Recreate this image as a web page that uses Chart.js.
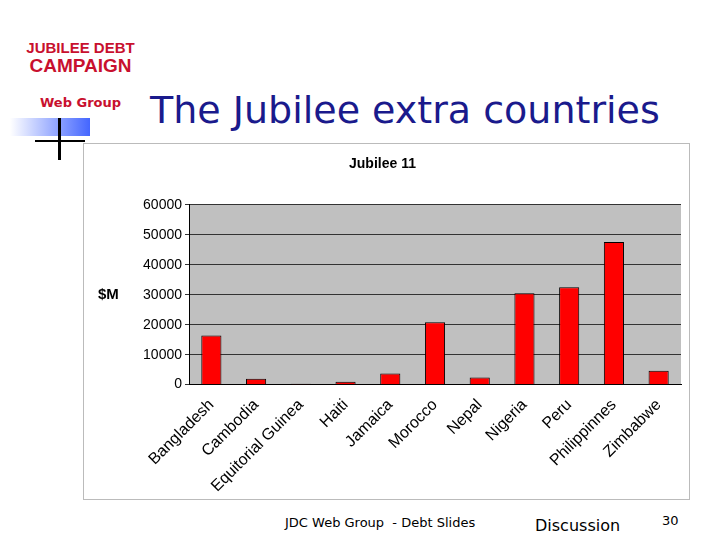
<!DOCTYPE html>
<html>
<head>
<meta charset="utf-8">
<script src="https://cdn.jsdelivr.net/npm/chart.js@4/dist/chart.umd.min.js"></script>
<style>
  body { margin: 0; width: 720px; height: 540px; background: #fff; position: relative; overflow: hidden; font-family: "DejaVu Sans", sans-serif; }
  #logo { position: absolute; left: 18px; top: 40px; width: 125px; text-align: center; }
  #logo .l1 { color: #c8102e; font-weight: bold; font-size: 15px; line-height: 16px; font-family: "Liberation Sans", sans-serif; }
  #logo .l2 { color: #c8102e; font-weight: bold; font-size: 19px; line-height: 19px; font-family: "Liberation Sans", sans-serif; }
  #logo .l3 { color: #c8102e; font-weight: bold; font-size: 13px; margin-top: 20px; }
  #bar { position: absolute; left: 10px; top: 118px; width: 80px; height: 18px; background: linear-gradient(to right, #fff, #4466ff); }
  #vline { position: absolute; left: 58px; top: 118px; width: 3px; height: 42px; background: #000; }
  #hline { position: absolute; left: 35px; top: 140px; width: 50px; height: 2px; background: #000; }
  #title { position: absolute; left: 150px; top: 88px; font-size: 38px; color: #1a1a8c; font-family: "DejaVu Sans", sans-serif; }
  #panel { position: absolute; left: 83px; top: 143px; width: 605px; height: 355px; border: 1px solid #bbb; background: #fff; }
  #foot1 { position: absolute; left: 285px; top: 515px; font-size: 13px; color: #000; }
  #foot2 { position: absolute; left: 535px; top: 516px; font-size: 16px; color: #000; }
  #foot3 { position: absolute; left: 662px; top: 513px; font-size: 13px; color: #000; }
</style>
</head>
<body>
<div id="logo"><div class="l1">JUBILEE DEBT</div><div class="l2">CAMPAIGN</div><div class="l3">Web Group</div></div>
<div id="bar"></div><div id="vline"></div><div id="hline"></div>
<div id="title">The Jubilee extra countries</div>
<div id="panel"><canvas id="c" width="605" height="355"></canvas></div>
<div id="foot1">JDC Web Group&nbsp; - Debt Slides</div>
<div id="foot2">Discussion</div>
<div id="foot3">30</div>
<script>
const countries = ['Bangladesh', 'Cambodia', 'Equitorial Guinea', 'Haiti', 'Jamaica', 'Morocco', 'Nepal', 'Nigeria', 'Peru', 'Philippinnes', 'Zimbabwe'];
const debtValues = [16400, 2000, 300, 1000, 3700, 20800, 2400, 30500, 32500, 47600, 4600];
const yAxisTitle = '$M';

const plotBg = {
  id: 'plotBg',
  beforeDraw(chart) {
    const a = chart.chartArea, ctx = chart.ctx;
    ctx.save();
    ctx.fillStyle = '#c0c0c0';
    ctx.fillRect(a.left, a.top, a.right - a.left, a.bottom - a.top);
    ctx.restore();
  },
  afterDraw(chart) {
    const a = chart.chartArea, ctx = chart.ctx;
    ctx.save();
    ctx.font = 'bold 15px "Liberation Sans"';
    ctx.fillStyle = '#000';
    ctx.textBaseline = 'middle';
    ctx.fillText(yAxisTitle, 14, (a.top + a.bottom) / 2);
    ctx.restore();
  }
};

new Chart(document.getElementById('c'), {
  type: 'bar',
  data: {
    labels: countries,
    datasets: [{ data: debtValues, backgroundColor: '#ff0000', borderColor: '#000', borderWidth: 1, barPercentage: 0.45, categoryPercentage: 1 }]
  },
  options: {
    responsive: false,
    animation: false,
    layout: { padding: { left: 0, right: 8, top: 0, bottom: 0 } },
    plugins: {
      legend: { display: false },
      tooltip: { enabled: false },
      title: { display: true, text: 'Jubilee 11', color: '#000', font: { family: 'Liberation Sans', size: 14, weight: 'bold' }, padding: { top: 12, bottom: 32 } }
    },
    scales: {
      y: {
        min: 0, max: 60000,
        ticks: { stepSize: 10000, color: '#000', font: { family: 'Liberation Sans', size: 14 }, callback: v => String(v) },
        grid: { color: '#333', drawTicks: true, tickLength: 4 },
        border: { color: '#000' },
        afterFit(s) { s.width = 105; }
      },
      x: {
        ticks: { minRotation: 45, maxRotation: 45, color: '#000', font: { family: 'Liberation Sans', size: 16 } },
        grid: { display: false },
        border: { color: '#000' }
      }
    }
  },
  plugins: [plotBg]
});
</script>
</body>
</html>
